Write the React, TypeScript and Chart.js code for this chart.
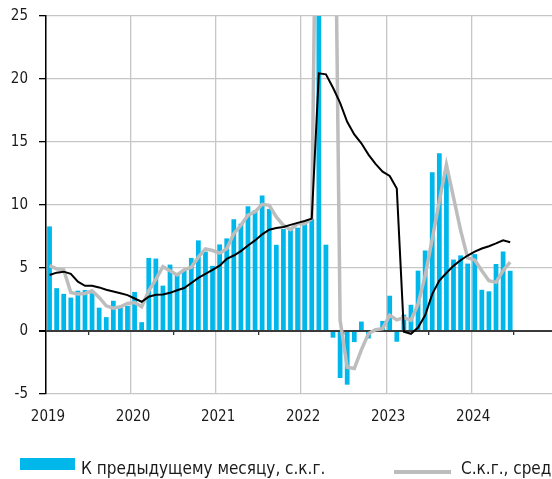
import React, { useEffect, useRef } from 'react';
import { Chart, registerables } from 'chart.js';

Chart.register(...registerables);

// Year tick labels (one per January, Jan 2019 = month 0)
const YEAR_LABELS = ['2019', '2020', '2021', '2022', '2023', '2024'];
const Y_MIN = -5;
const Y_MAX = 25;
const Y_STEP = 5;

// Month-on-month, SAAR (Jan 2019 .. Jun 2024)
const MOM_SAAR = [
  8.3, 3.4, 2.95, 2.65, 3.2, 3.25, 3.0, 1.85, 1.1, 2.4, 1.85, 2.0,
  3.1, 0.7, 5.8, 5.75, 3.6, 5.27, 4.5, 4.8, 5.8, 7.19, 6.3, 5.17,
  6.87, 7.35, 8.87, 8.52, 9.9, 9.58, 10.76, 9.69, 6.84, 8.1, 8.0, 8.2,
  8.5, 8.9, 145, 6.85, -0.53, -3.73, -4.26, -0.88, 0.75, -0.59, 0.14, 0.8,
  2.8, -0.85, 1.3, 2.08, 4.79, 6.39, 12.6, 14.1, 12.9, 5.67, 6.0, 5.35,
  6.1, 3.27, 3.15, 5.32, 6.31, 4.78,
];

// SAAR, 3-month average
const AVG_3M = [
  5.19, 4.93, 4.85, 3.06, 2.93, 2.98, 3.19, 2.66, 2.0, 1.81, 1.92, 2.18,
  2.26, 1.92, 3.19, 4.1, 5.11, 4.79, 4.45, 4.85, 5.06, 5.86, 6.52, 6.39,
  6.18, 6.52, 7.72, 8.39, 9.19, 9.45, 10.06, 9.98, 9.05, 8.39, 8.04, 8.52,
  8.52, 8.92, 54, 53.5, 50, 0.85, -2.88, -2.98, -1.5, -0.21, 0.1, 0.19,
  1.25, 0.88, 1.06, 0.85, 2.13, 4.39, 7.3, 10.3, 13.2, 10.6, 8.0, 5.8,
  5.64, 4.79, 3.99, 3.86, 4.79, 5.46,
];

// SAAR, 12-month average
const AVG_12M = [
  4.45, 4.63, 4.71, 4.53, 3.91, 3.59, 3.59, 3.46, 3.27, 3.14, 3.0, 2.85,
  2.58, 2.32, 2.72, 2.87, 2.9, 3.03, 3.23, 3.41, 3.81, 4.21, 4.53, 4.85,
  5.19, 5.72, 5.99, 6.34, 6.79, 7.19, 7.67, 8.04, 8.17, 8.25, 8.42, 8.58,
  8.73, 8.92, 20.45, 20.37, 19.3, 18.1, 16.6, 15.6, 14.9, 14.0, 13.26, 12.65,
  12.3, 11.3, -0.05, -0.22, 0.27, 1.25, 2.93, 4.0, 4.6, 5.17, 5.62, 5.99,
  6.3, 6.55, 6.73, 6.95, 7.2, 7.05,
];

const SERIES_LABELS = [
  'К предыдущему месяцу, с.к.г.',
  'С.к.г., среднее за 3 месяца',
  'С.к.г., среднее за 12 месяцев',
];

const CYAN = '#00B7EB';
const GRAY = '#BDBDBD';
const BLACK = '#000000';
const GRID = '#C6C6C6';
const FONT_FAMILY =
  '"Liberation Sans Narrow", "DejaVu Sans Condensed", "Roboto Condensed", "Liberation Sans", Arial, sans-serif';

export default function App() {
  const ref = useRef<HTMLCanvasElement | null>(null);

  useEffect(() => {
    if (!ref.current) return;
    const pts = (arr: number[]) => arr.map((y, i) => ({ x: i + 0.5, y }));
    const yearTicks = (axis: any) => {
      axis.ticks = YEAR_LABELS.map((_, i) => ({ value: i * 12 }));
    };
    const font = { family: FONT_FAMILY, size: 15 };

    const chart = new Chart(ref.current, {
      type: 'bar',
      data: {
        datasets: [
          {
            type: 'line',
            label: SERIES_LABELS[2],
            data: pts(AVG_12M),
            borderColor: BLACK,
            borderWidth: 2,
            pointRadius: 0,
            tension: 0,
            order: 1,
          } as any,
          {
            type: 'line',
            label: SERIES_LABELS[1],
            data: pts(AVG_3M),
            borderColor: GRAY,
            borderWidth: 3.5,
            pointRadius: 0,
            tension: 0,
            order: 2,
          },
          {
            type: 'bar',
            label: SERIES_LABELS[0],
            data: pts(MOM_SAAR),
            backgroundColor: CYAN,
            barPercentage: 0.67,
            categoryPercentage: 1,
            order: 3,
          },
        ],
      },
      options: {
        animation: false,
        responsive: false,
        maintainAspectRatio: false,
        layout: { padding: { top: 16, right: 0, left: 0, bottom: 55 } },
        plugins: { legend: { display: false }, tooltip: { enabled: false } },
        scales: {
          x: {
            type: 'linear',
            min: 0,
            max: 71.4,
            offset: false,
            afterBuildTicks: yearTicks,
            afterFit: (s: any) => {
              s.height = 30;
            },
            grid: { color: GRID, lineWidth: 1.3, drawTicks: false, offset: false },
            border: { display: false },
            ticks: {
              padding: 14,
              labelOffset: 2,
              font,
              color: '#1a1a1a',
              maxRotation: 0,
              autoSkip: false,
              callback: (v: any) => YEAR_LABELS[Math.round(Number(v) / 12)] ?? '',
            },
          },
          xz: {
            type: 'linear',
            axis: 'x',
            position: { y: 0 },
            min: 0,
            max: 71.4,
            offset: false,
            afterBuildTicks: yearTicks,
            grid: {
              drawOnChartArea: false,
              drawTicks: true,
              tickLength: 4,
              tickColor: '#333333',
              lineWidth: 1.3,
            },
            border: { display: false },
            ticks: { display: false },
          },
          y: {
            min: Y_MIN,
            max: Y_MAX,
            afterFit: (s: any) => {
              s.width = 46;
              s.paddingTop = 0;
              s.paddingBottom = 0;
            },
            ticks: { stepSize: Y_STEP, padding: 11, font, color: '#1a1a1a' },
            grid: {
              color: (c: any) => (c.tick && c.tick.value === 0 ? '#3a3a3a' : GRID),
              lineWidth: (c: any) => (c.tick && c.tick.value === 0 ? 2 : 1.3),
              tickLength: 7,
              tickColor: '#000000',
              drawTicks: true,
            },
            border: { color: '#000000', width: 1.5 },
          },
        },
      } as any,
    });
    return () => chart.destroy();
  }, []);

  const textStyle: React.CSSProperties = {
    position: 'absolute',
    top: 460,
    fontFamily: FONT_FAMILY,
    fontSize: 17,
    lineHeight: '17px',
    color: '#1a1a1a',
    whiteSpace: 'nowrap',
  };

  return (
    <div
      style={{
        position: 'fixed',
        left: 0,
        top: 0,
        width: 552,
        height: 479,
        overflow: 'hidden',
        background: '#ffffff',
      }}
    >
      <canvas ref={ref} width={552} height={479} style={{ display: 'block', width: 552, height: 479 }} />
      <div style={{ position: 'absolute', left: 20, top: 458, width: 55, height: 11.5, background: CYAN }} />
      <div style={{ ...textStyle, left: 81 }}>{SERIES_LABELS[0]}</div>
      <div style={{ position: 'absolute', left: 394, top: 470, width: 57, height: 3.5, background: GRAY }} />
      <div style={{ ...textStyle, left: 461 }}>{SERIES_LABELS[1]}</div>
      <div style={{ position: 'absolute', left: 740, top: 470, width: 57, height: 2, background: BLACK }} />
      <div style={{ ...textStyle, left: 807 }}>{SERIES_LABELS[2]}</div>
    </div>
  );
}
